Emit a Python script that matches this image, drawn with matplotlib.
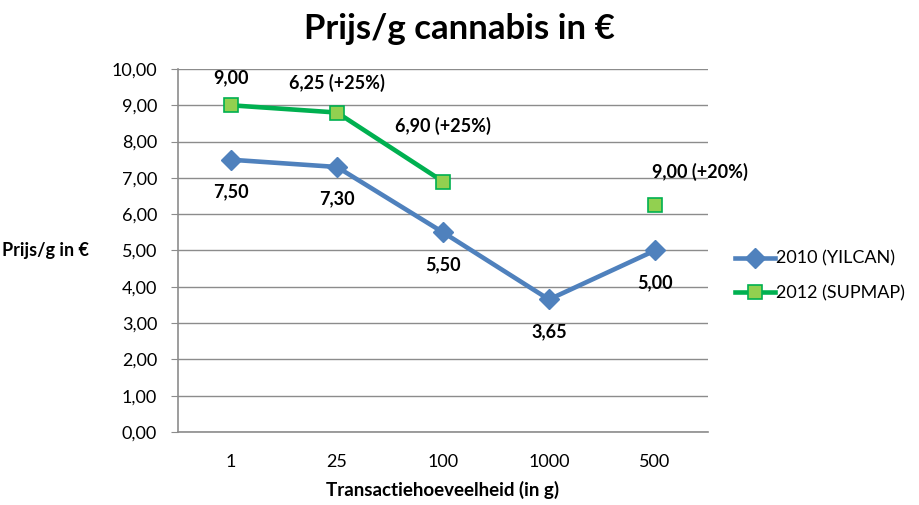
import numpy as np
import matplotlib.pyplot as plt
from matplotlib.ticker import FuncFormatter

plt.rcParams['font.family'] = ['Lato', 'DejaVu Sans']

# data
categories = ['1', '25', '100', '1000', '500']
prices_2010 = [7.50, 7.30, 5.50, 3.65, 5.00]
prices_2012 = [9.00, 8.80, 6.90, np.nan, 6.25]
labels_2010 = ['7,50', '7,30', '5,50', '3,65', '5,00']
labels_2012 = ['9,00', '6,25 (+25%)', '6,90 (+25%)', '', '9,00 (+20%)']

blue = '#4F81BD'
green_line = '#00B050'
green_fill = '#92D050'
grid_col = '#8C8C8C'

fig = plt.figure(figsize=(9.19, 5.05), dpi=100)
ax = fig.add_axes([0.1937, 0.1446, 0.5767, 0.7188])

x = np.arange(len(categories))
ax.plot(x, prices_2010, color=blue, lw=3.3, marker='D', ms=10,
        mfc=blue, mec=blue, label='2010 (YILCAN)', zorder=3)
ax.plot(x, prices_2012, color=green_line, lw=3.3, marker='s', ms=10.5,
        mfc=green_fill, mec=green_line, mew=1.2, label='2012 (SUPMAP)', zorder=3)

# data labels (offsets in points)
off_2010 = [(0, -23), (0, -23), (0, -23), (0, -23), (0, -23)]
off_2012 = [(0, 20), (0, 21), (0, 40), (0, 0), (32, 24)]
for i in range(len(categories)):
    ax.annotate(labels_2010[i], (x[i], prices_2010[i]), xytext=off_2010[i],
                textcoords='offset points', ha='center', va='center',
                fontsize=13, fontweight='bold')
    if labels_2012[i]:
        ax.annotate(labels_2012[i], (x[i], prices_2012[i]), xytext=off_2012[i],
                    textcoords='offset points', ha='center', va='center',
                    fontsize=13, fontweight='bold', annotation_clip=False)

ax.set_xlim(-0.5, len(categories) - 0.5)
ax.set_ylim(0, 10)
ax.set_yticks(np.arange(0, 10.01, 1))
ax.yaxis.set_major_formatter(FuncFormatter(lambda v, p: f'{v:.2f}'.replace('.', ',')))
ax.set_xticks(x)
ax.set_xticklabels(categories)
ax.tick_params(axis='y', length=5, color=grid_col, labelsize=13, pad=10)
ax.tick_params(axis='x', length=0, labelsize=13, pad=16)

ax.grid(axis='y', color=grid_col, lw=1)
ax.set_axisbelow(True)
for s in ['top', 'right']:
    ax.spines[s].set_visible(False)
for s in ['left', 'bottom']:
    ax.spines[s].set_color(grid_col)
    ax.spines[s].set_linewidth(1.2)

ax.set_xlabel('Transactiehoeveelheid (in g)', fontsize=13.5, fontweight='bold', labelpad=8)
ax.set_ylabel('Prijs/g in €', fontsize=13, fontweight='bold', rotation=0,
              ha='center', va='center')
ax.yaxis.set_label_coords(-0.25, 0.5)

fig.suptitle('Prijs/g cannabis in €', fontsize=25, fontweight='bold', y=0.975)

ax.legend(loc='center left', bbox_to_anchor=(1.02, 0.43), frameon=False,
          fontsize=13, handlelength=2.2, handletextpad=0.1, labelspacing=1.0)

fig.savefig('out.png', dpi=100)
